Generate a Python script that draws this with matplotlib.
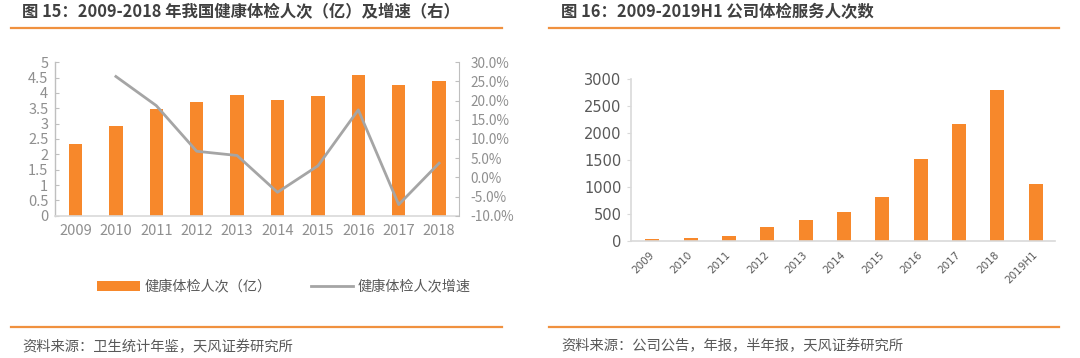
import matplotlib
matplotlib.use("Agg")
import matplotlib.pyplot as plt
from matplotlib.ticker import FuncFormatter, MultipleLocator
from matplotlib.lines import Line2D
import numpy as np

plt.rcParams['font.family'] = ['Noto Sans CJK SC', 'DejaVu Sans']

# ---- data: left chart ----
years_left = ['2009', '2010', '2011', '2012', '2013', '2014', '2015', '2016', '2017', '2018']
exams = [2.34, 2.93, 3.48, 3.71, 3.93, 3.77, 3.89, 4.57, 4.25, 4.40]          # 亿
growth = [np.nan, 26.3, 18.7, 6.8, 5.7, -3.9, 3.0, 17.6, -7.1, 3.7]             # %

# ---- data: right chart ----
years_right = ['2009', '2010', '2011', '2012', '2013', '2014', '2015', '2016', '2017', '2018', '2019H1']
company = [35, 55, 98, 252, 387, 535, 811, 1512, 2170, 2790, 1048]

title_left = '图 15：2009-2018 年我国健康体检人次（亿）及增速（右）'
title_right = '图 16：2009-2019H1 公司体检服务人次数'
source_left = '资料来源：卫生统计年鉴，天风证券研究所'
source_right = '资料来源：公司公告，年报，半年报，天风证券研究所'
legend_labels = ['健康体检人次（亿）', '健康体检人次增速']

ORANGE = '#F7882B'
SEP = '#F0913F'
GRAY_LINE = '#A5A5A5'
SPINE = '#BFBFBF'
TXT = '#595959'
LIGHT_TXT = '#8F8F8F'

W, H = 1080, 358
fig = plt.figure(figsize=(W / 100, H / 100), dpi=100)


def ax_px(l, r, t, b):
    return fig.add_axes([l / W, 1 - b / H, (r - l) / W, (b - t) / H])


def hline(x0, x1, y):
    fig.add_artist(Line2D([x0 / W, x1 / W], [1 - y / H, 1 - y / H], color=SEP, lw=1.6,
                          transform=fig.transFigure))


# titles & separators
fig.text(22 / W, 1 - 12.5 / H, title_left, fontsize=11.8, fontweight='bold', color='#404040',
         ha='left', va='center')
fig.text(561 / W, 1 - 12.5 / H, title_right, fontsize=11.8, fontweight='bold', color='#404040',
         ha='left', va='center')
hline(11, 502, 27.5)
hline(549, 1059, 27.5)
hline(11, 502, 327.3)
hline(549, 1059, 327.3)
fig.text(22 / W, 1 - 347 / H, source_left, fontsize=10.3, color=TXT, ha='left', va='center')
fig.text(561 / W, 1 - 345.5 / H, source_right, fontsize=10.3, color=TXT, ha='left', va='center')

# ---- left chart ----
ax = ax_px(55.3, 459.3, 62.3, 215.7)
x = np.arange(len(years_left))
bars = ax.bar(x, exams, width=0.335, color=ORANGE, zorder=2)
ax.set_xlim(-0.5, len(years_left) - 0.5)
ax.set_ylim(0, 5)
ax.yaxis.set_major_locator(MultipleLocator(0.5))
ax.yaxis.set_major_formatter(FuncFormatter(lambda v, p: ('%g' % v)))
ax.set_xticks(x)
ax.set_xticklabels(years_left)
for s in ['top', 'right']:
    ax.spines[s].set_visible(False)
ax.spines['left'].set_color(SPINE)
ax.spines['bottom'].set_color('#D9D9D9')
ax.spines['left'].set_linewidth(1.0)
ax.spines['bottom'].set_linewidth(1.2)
ax.tick_params(axis='y', direction='in', length=3, color=SPINE, labelsize=10.5,
               labelcolor=LIGHT_TXT, pad=5)
ax.tick_params(axis='x', length=0, labelsize=10.5, labelcolor=LIGHT_TXT, pad=6)

ax2 = ax.twinx()
line, = ax2.plot(x, growth, color=GRAY_LINE, lw=2.0, zorder=3)
ax2.set_ylim(-10, 30)
ax2.yaxis.set_major_locator(MultipleLocator(5))
ax2.yaxis.set_major_formatter(FuncFormatter(lambda v, p: '%.1f%%' % v))
for s in ['top', 'left', 'bottom']:
    ax2.spines[s].set_visible(False)
ax2.spines['right'].set_color(SPINE)
ax2.tick_params(axis='y', direction='in', length=3, color=SPINE, labelsize=9.8,
                labelcolor=LIGHT_TXT, pad=8)

leg = fig.legend([bars, line], legend_labels, loc='center', bbox_to_anchor=(284 / W, 1 - 286.5 / H),
                 ncol=2, frameon=False, fontsize=10.2, handlelength=3.0, handletextpad=0.3,
                 columnspacing=2.8, labelcolor=TXT, handleheight=0.7)

# ---- right chart ----
bx = ax_px(631.3, 1055, 79, 241)
xr = np.arange(len(years_right))
bx.bar(xr, company, width=0.365, color=ORANGE, zorder=2)
bx.set_xlim(-0.55, len(years_right) - 0.5)
bx.set_ylim(0, 3000)
bx.yaxis.set_major_locator(MultipleLocator(500))
bx.set_xticks(xr)
bx.set_xticklabels(years_right, rotation=45, ha='right', va='center', rotation_mode='anchor',
                   family='DejaVu Sans')
for s in ['top', 'right']:
    bx.spines[s].set_visible(False)
bx.spines['left'].set_color('#D9D9D9')
bx.spines['bottom'].set_color('#D9D9D9')
bx.spines['left'].set_linewidth(1.2)
bx.spines['bottom'].set_linewidth(1.2)
bx.tick_params(axis='y', direction='out', length=3, color='#D9D9D9', labelsize=10.5,
               labelcolor=TXT, pad=4)
for lab in bx.get_yticklabels():
    lab.set_family('DejaVu Sans')
bx.tick_params(axis='x', length=0, labelsize=7.5, labelcolor=TXT, pad=9)

fig.savefig('out.png', dpi=100)
